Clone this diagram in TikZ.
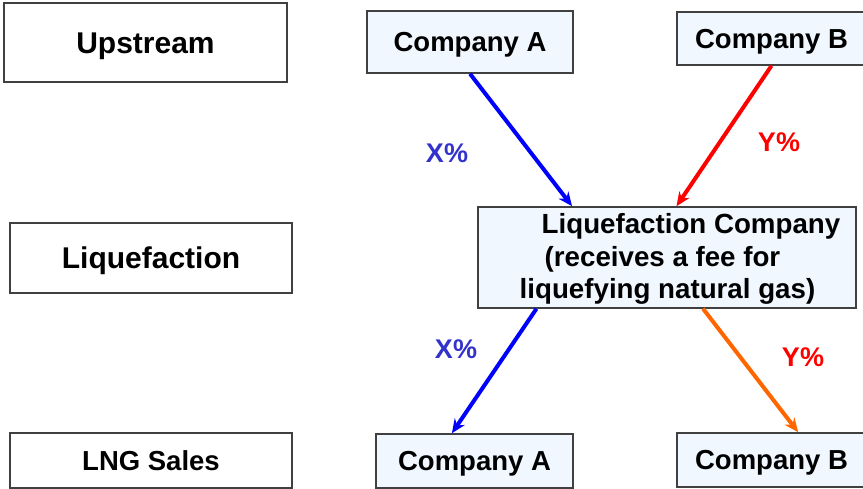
\documentclass[tikz,border=0pt]{standalone}
\usepackage{fontspec}
\setmainfont{Liberation Sans}
\usetikzlibrary{arrows.meta,calc}
\definecolor{boxblue}{RGB}{240,247,255}
\definecolor{boxline}{RGB}{64,64,64}
\definecolor{labblue}{RGB}{51,51,204}
\definecolor{arrorange}{RGB}{255,102,0}
\tikzset{
  x=1pt, y=-1pt,
  stagebox/.style={draw=boxline, line width=1.5pt, fill=white, inner sep=0pt,
    font=\bfseries\fontsize{30}{36}\selectfont, text height=21.5pt, text depth=0pt},
  cobox/.style={draw=boxline, line width=1.5pt, fill=boxblue, inner sep=0pt,
    font=\bfseries\fontsize{27.5}{32}\selectfont, text height=19.7pt, text depth=0pt},
  flow/.style={line width=4pt, -{Stealth[length=14pt,width=12pt]}},
  pct/.style={font=\bfseries\fontsize{27}{32}\selectfont, inner sep=0pt, text height=19.3pt, text depth=0pt},
}
\begin{document}
\begin{tikzpicture}
\useasboundingbox (0,0) rectangle (863,489);
% stage labels
\node[stagebox, minimum width=283pt, minimum height=79pt] (up) at (145.5,42.5) {Upstream};
\node[stagebox, minimum width=282pt, minimum height=70pt] (lq) at (151,258) {Liquefaction};
\node[stagebox, minimum width=282pt, minimum height=55pt,
  font=\bfseries\fontsize{27.5}{32}\selectfont, text height=19.7pt] (lng) at (151,460.5) {LNG Sales};
% companies
\node[cobox, minimum width=206pt, minimum height=62pt] (ca1) at (470,42) {Company A};
\node[cobox, minimum width=189pt, minimum height=53pt] (cb1) at (771.5,38.5) {Company B};
\node[cobox, minimum width=378pt, minimum height=101pt] (lc) at (667,257.5) {};
\node[align=left, inner sep=0pt, font=\bfseries\fontsize{27.7}{32.5}\selectfont]
  (lctext) at ($(lc.center)+(13,1.5)$)
  {\hspace{22pt}Liquefaction Company\\\hspace{25pt}(receives a fee for\\liquefying natural gas)};
\node[cobox, minimum width=197pt, minimum height=54pt] (ca2) at (474.5,461) {Company A};
\node[cobox, minimum width=189pt, minimum height=54pt] (cb2) at (771.5,460) {Company B};
% connectors
\draw[flow, blue] (ca1.south) -- ($(lc.north west)!0.25!(lc.north east)$);
\draw[flow, red] (cb1.south) -- ($(lc.north west)!0.525!(lc.north east)$);
\draw[flow, blue] ($(lc.south west)!0.156!(lc.south east)$) -- ($(ca2.north west)!0.386!(ca2.north east)$);
\draw[flow, arrorange] ($(lc.south west)!0.595!(lc.south east)$) -- ($(cb2.north west)!0.64!(cb2.north east)$);
% labels
\node[pct, text=labblue] (x1) at (447,153) {X\%};
\node[pct, text=red] (y1) at (779,142) {Y\%};
\node[pct, text=labblue] (x2) at (456,349) {X\%};
\node[pct, text=red] (y2) at (803,357) {Y\%};
\end{tikzpicture}
\end{document}
